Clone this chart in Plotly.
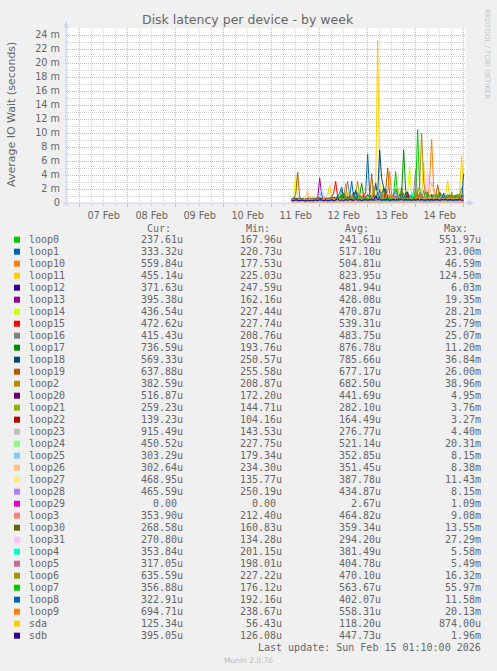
import pandas as pd
import plotly.graph_objects as go

# ------------------------------------------------------------------
# dados (valores em milissegundos, 1 ponto por hora
# a partir de 11 Feb 10:00 ate 15 Feb 00:00)
# ------------------------------------------------------------------
start = "2026-02-11 10:00"
n_points = 87

devices = ["loop0", "loop1", "loop10", "loop11", "loop12", "loop13", "loop14", "loop15",
           "loop16", "loop17", "loop18", "loop19", "loop2", "loop20", "loop21", "loop22",
           "loop23", "loop24", "loop25", "loop26", "loop27", "loop28", "loop29", "loop3",
           "loop30", "loop31", "loop4", "loop5", "loop6", "loop7", "loop8", "loop9",
           "sda", "sdb"]

colors = ["#00CC00", "#0066B3", "#FF8000", "#FFCC00", "#330099", "#990099", "#CCFF00", "#FF0000",
          "#808080", "#008F00", "#00487D", "#B35A00", "#B38F00", "#6B006B", "#8FB300", "#B30000",
          "#BEBEBE", "#80FF80", "#80C9FF", "#FFC080", "#FFE680", "#AA80FF", "#EE00CC", "#FF8080",
          "#666600", "#FFBFFF", "#00FFCC", "#CC6699", "#999900", "#00CC00", "#0066B3", "#FF8000",
          "#FFCC00", "#330099"]

cur = ["237.61u", "333.32u", "559.84u", "455.14u", "371.63u", "395.38u", "436.54u", "472.62u",
       "415.43u", "736.59u", "569.33u", "637.88u", "382.59u", "516.87u", "259.23u", "139.23u",
       "915.49u", "450.52u", "303.29u", "302.64u", "468.95u", "465.59u", "0.00", "353.90u",
       "268.58u", "270.80u", "353.84u", "317.05u", "635.59u", "356.88u", "322.91u", "694.71u",
       "125.34u", "395.05u"]
mins = ["167.96u", "220.73u", "177.53u", "225.03u", "247.59u", "162.16u", "227.44u", "227.74u",
        "208.76u", "193.76u", "250.57u", "255.58u", "208.87u", "172.20u", "144.71u", "104.16u",
        "143.53u", "227.75u", "179.34u", "234.30u", "135.77u", "250.19u", "0.00", "212.40u",
        "160.83u", "134.28u", "201.15u", "198.01u", "227.22u", "176.12u", "192.16u", "238.67u",
        "56.43u", "126.08u"]
avgs = ["241.61u", "517.10u", "504.81u", "823.95u", "481.94u", "428.08u", "470.87u", "539.31u",
        "483.75u", "876.78u", "785.66u", "677.17u", "682.50u", "441.69u", "282.10u", "164.49u",
        "276.77u", "521.14u", "352.85u", "351.45u", "387.78u", "434.87u", "2.67u", "464.82u",
        "359.34u", "294.20u", "381.49u", "404.78u", "470.10u", "563.67u", "402.07u", "558.31u",
        "118.20u", "447.73u"]
maxs = ["551.97u", "23.00m", "46.59m", "124.50m", "6.03m", "19.35m", "28.21m", "25.79m",
        "25.07m", "11.20m", "36.84m", "26.00m", "38.96m", "4.95m", "3.76m", "3.27m",
        "4.40m", "20.31m", "8.15m", "8.38m", "11.43m", "8.15m", "1.09m", "9.08m",
        "13.55m", "27.29m", "5.58m", "5.49m", "16.32m", "55.97m", "11.58m", "20.13m",
        "874.00u", "1.96m"]

loop0 = [0.22, 0.25, 0.2, 0.24, 0.3, 0.21, 0.19, 0.23, 0.26, 0.2,
         0.24, 0.28, 0.22, 0.2, 0.35, 0.25, 0.21, 0.23, 0.27, 0.3,
         0.22, 0.2, 0.26, 0.24, 0.3, 0.22, 0.25, 0.28, 0.21, 0.24,
         0.33, 0.25, 0.22, 0.2, 0.26, 0.3, 0.24, 0.22, 0.4, 0.25,
         0.28, 0.23, 0.3, 0.45, 0.35, 0.26, 0.22, 0.24, 0.3, 0.27,
         0.23, 0.25, 0.29, 0.22, 0.26, 0.24, 0.31, 0.22, 0.25, 0.28,
         0.24, 0.22, 0.3, 0.35, 0.27, 0.25, 0.23, 0.26, 0.3, 0.22,
         0.25, 0.28, 0.24, 0.22, 0.26, 0.3, 0.23, 0.21, 0.25, 0.27,
         0.22, 0.24, 0.26, 0.23, 0.25, 0.28, 0.24]
loop1 = [0.4, 0.35, 0.5, 0.45, 0.38, 0.6, 0.42, 0.4, 0.55, 0.48,
         0.5, 0.45, 0.4, 0.62, 0.5, 0.44, 0.48, 0.52, 0.4, 0.46,
         0.5, 0.55, 0.48, 0.6, 0.5, 1.2, 0.55, 0.5, 0.7, 0.9,
         3.1, 0.8, 0.6, 0.5, 0.7, 0.9, 0.6, 1.6, 7.0, 1.2,
         0.7, 0.6, 0.8, 0.5, 1.9, 0.7, 0.6, 0.5, 0.8, 0.6,
         0.55, 0.7, 0.5, 0.6, 1.4, 0.6, 0.5, 0.7, 0.6, 0.5,
         0.6, 0.8, 0.5, 0.6, 0.7, 0.5, 0.9, 1.5, 0.6, 0.5,
         0.6, 0.5, 0.7, 0.6, 1.2, 0.5, 0.6, 0.5, 0.7, 0.6,
         0.5, 0.6, 0.8, 0.6, 0.5, 0.7, 0.6]
loop10 = [0.45, 0.5, 0.6, 0.55, 0.4, 0.5, 0.45, 0.5, 0.6, 0.5,
          0.55, 0.45, 0.5, 0.6, 0.5, 0.45, 0.5, 0.55, 0.6, 0.5,
          0.7, 0.5, 0.6, 0.55, 0.9, 0.6, 0.7, 2.8, 0.8, 0.6,
          0.7, 1.1, 0.6, 0.8, 0.6, 0.7, 0.9, 0.6, 0.7, 0.8,
          0.6, 0.9, 0.7, 0.6, 1.0, 0.7, 1.3, 0.6, 0.8, 0.7,
          0.6, 0.8, 1.2, 0.7, 0.6, 0.9, 0.7, 0.6, 1.1, 0.8,
          0.7, 0.9, 0.6, 1.4, 0.8, 1.0, 0.7, 2.0, 0.9, 3.2,
          9.1, 2.2, 0.8, 0.9, 1.5, 0.7, 0.8, 0.9, 0.6, 0.7,
          0.8, 0.6, 0.7, 0.9, 0.6, 0.7, 0.6]
loop11 = [0.5, 0.6, 0.55, 0.7, 0.5, 0.6, 0.65, 0.5, 0.6, 1.0,
          0.6, 0.7, 0.5, 0.6, 0.8, 0.6, 0.7, 0.9, 1.2, 2.5,
          0.8, 0.7, 0.6, 0.9, 0.7, 0.8, 1.0, 0.7, 1.5, 0.8,
          0.7, 0.9, 1.1, 0.8, 0.7, 1.6, 0.9, 0.8, 1.0, 0.9,
          0.8, 1.0, 2.0, 23.2, 3.0, 1.2, 0.9, 1.0, 0.8, 1.3,
          0.9, 1.1, 0.8, 2.2, 1.0, 0.9, 1.2, 0.8, 1.0, 0.9,
          1.1, 0.9, 1.5, 1.0, 0.8, 1.2, 5.8, 1.4, 0.9, 1.0,
          1.2, 0.9, 1.0, 1.3, 0.8, 1.0, 0.9, 1.1, 3.2, 0.9,
          1.0, 0.8, 1.2, 0.9, 1.5, 6.8, 1.0]
loop12 = [0.4, 0.45, 0.5, 0.42, 0.48, 0.4, 0.45, 0.5, 0.44, 0.42,
          0.46, 0.5, 0.42, 0.45, 0.55, 0.48, 0.44, 0.5, 0.46, 0.52,
          0.48, 0.44, 0.5, 0.46, 0.52, 0.48, 0.55, 0.5, 0.46, 0.5,
          0.52, 1.5, 0.5, 0.55, 0.47, 0.5, 0.6, 0.52, 0.55, 0.5,
          0.5, 0.55, 0.6, 0.52, 0.5, 0.56, 0.48, 2.0, 0.62, 0.5,
          0.48, 0.52, 0.5, 0.55, 0.5, 0.48, 0.53, 0.5, 0.46, 0.52,
          0.5, 0.55, 0.48, 0.52, 0.6, 0.5, 0.48, 0.55, 0.5, 0.52,
          1.2, 0.5, 0.55, 0.5, 0.46, 0.52, 0.5, 0.48, 0.55, 0.5,
          0.5, 0.46, 0.52, 0.5, 0.48, 0.5, 0.45]
loop13 = [0.35, 0.4, 0.38, 0.42, 0.36, 0.4, 0.38, 0.45, 0.4, 0.37,
          0.4, 0.42, 0.38, 0.6, 3.6, 1.2, 0.5, 0.42, 0.4, 0.38,
          0.42, 0.4, 0.45, 0.38, 0.4, 0.5, 0.42, 0.4, 0.45, 0.4,
          0.42, 0.48, 0.4, 0.45, 0.42, 0.4, 0.5, 0.44, 0.42, 0.46,
          0.4, 0.45, 0.42, 0.5, 0.44, 0.4, 0.48, 0.42, 0.45, 0.4,
          0.44, 0.42, 0.4, 0.5, 0.45, 0.42, 0.4, 1.5, 0.42, 0.44,
          0.4, 0.42, 0.48, 0.44, 0.4, 0.45, 0.42, 0.4, 0.46, 0.42,
          0.45, 0.4, 0.42, 0.44, 0.4, 0.48, 0.42, 0.4, 0.45, 0.42,
          0.4, 0.44, 0.42, 0.4, 0.46, 0.42, 0.4]
loop14 = [0.4, 0.8, 4.0, 0.9, 0.4, 0.45, 0.4, 0.5, 0.42, 0.4,
          0.45, 0.4, 0.5, 0.42, 0.6, 0.45, 0.4, 0.5, 0.45, 0.42,
          0.5, 0.45, 0.4, 0.48, 0.5, 0.6, 0.45, 0.5, 0.4, 0.55,
          0.5, 0.45, 0.7, 0.5, 0.45, 0.5, 0.6, 0.45, 0.5, 0.48,
          0.55, 0.5, 0.45, 0.6, 0.5, 0.48, 0.9, 0.5, 0.45, 0.6,
          0.5, 0.45, 1.4, 0.5, 0.48, 0.6, 0.5, 0.7, 1.6, 5.3,
          1.0, 0.5, 0.6, 0.5, 0.45, 1.2, 0.5, 0.6, 0.5, 0.45,
          0.5, 0.6, 0.48, 0.5, 0.45, 0.5, 0.6, 0.5, 0.48, 0.5,
          0.45, 0.5, 0.55, 0.5, 0.48, 0.5, 0.45]
loop15 = [0.45, 0.5, 0.48, 0.5, 0.45, 0.52, 0.5, 0.48, 0.5, 0.46,
          0.5, 0.48, 0.52, 0.5, 0.55, 0.5, 0.48, 0.5, 0.52, 0.6,
          0.9, 1.4, 3.1, 0.8, 0.55, 0.5, 0.6, 0.52, 0.5, 0.55,
          0.5, 0.6, 0.52, 0.55, 0.5, 0.7, 0.55, 0.5, 0.6, 0.52,
          0.55, 0.5, 0.6, 0.55, 0.52, 0.6, 2.0, 0.55, 0.6, 0.52,
          0.55, 0.6, 0.5, 0.55, 0.6, 0.52, 0.5, 0.55, 0.6, 0.5,
          0.55, 0.52, 0.6, 0.5, 0.55, 0.6, 0.52, 0.5, 0.55, 0.6,
          0.5, 0.55, 0.6, 0.52, 0.5, 0.55, 1.4, 0.5, 0.52, 0.55,
          0.5, 0.55, 0.52, 0.5, 0.55, 0.5, 0.48]
loop16 = [0.4, 0.45, 0.42, 0.4, 0.45, 0.5, 0.42, 0.4, 0.45, 0.42,
          0.45, 0.4, 0.48, 0.42, 0.45, 0.5, 0.42, 0.45, 0.4, 0.48,
          0.45, 0.5, 0.42, 0.48, 0.45, 0.5, 0.6, 1.2, 3.1, 0.9,
          0.5, 0.48, 0.55, 0.5, 0.45, 0.5, 0.55, 0.48, 0.5, 0.6,
          0.5, 0.55, 0.48, 0.5, 0.6, 0.5, 0.48, 0.55, 0.5, 0.52,
          0.5, 0.48, 0.55, 0.5, 0.6, 0.5, 0.48, 0.5, 0.55, 0.5,
          0.6, 1.5, 4.8, 0.9, 0.5, 0.55, 0.5, 0.48, 0.55, 0.5,
          0.48, 0.5, 0.55, 0.5, 0.48, 0.52, 0.5, 0.55, 0.5, 0.48,
          0.5, 0.52, 0.48, 0.5, 0.55, 0.5, 0.48]
loop17 = [0.6, 0.7, 0.65, 0.6, 0.7, 0.62, 0.68, 0.6, 0.7, 0.65,
          0.7, 0.62, 0.68, 0.7, 0.75, 0.7, 0.65, 0.72, 0.7, 0.68,
          0.75, 0.7, 0.8, 0.72, 0.9, 0.8, 1.4, 0.85, 0.8, 0.9,
          1.0, 0.9, 1.8, 0.9, 1.1, 2.8, 1.0, 0.9, 1.2, 1.0,
          0.9, 1.1, 1.0, 0.9, 1.3, 1.0, 2.2, 1.0, 1.1, 0.9,
          1.0, 1.2, 2.0, 1.0, 1.1, 1.5, 7.6, 1.8, 1.0, 1.1,
          1.0, 0.9, 1.2, 1.0, 1.1, 1.0, 0.9, 1.3, 1.0, 1.1,
          1.0, 1.2, 0.9, 1.1, 1.6, 1.0, 1.1, 0.9, 1.2, 1.0,
          1.1, 0.9, 1.0, 1.2, 1.0, 1.1, 0.9]
loop18 = [0.6, 0.65, 0.7, 0.6, 0.62, 0.7, 0.65, 0.6, 0.68, 0.62,
          0.65, 0.7, 0.6, 0.68, 0.72, 0.65, 0.7, 0.62, 0.68, 0.7,
          0.7, 0.75, 0.68, 0.8, 0.7, 0.9, 0.75, 0.8, 0.72, 0.85,
          0.8, 0.9, 0.75, 1.0, 0.8, 0.9, 0.85, 0.8, 1.1, 0.9,
          1.0, 0.9, 2.8, 1.2, 7.6, 3.5, 2.2, 1.5, 1.0, 0.9,
          0.8, 1.0, 0.9, 0.8, 1.1, 0.9, 0.8, 1.0, 0.9, 0.8,
          0.9, 0.8, 1.0, 0.9, 0.8, 1.2, 0.9, 0.8, 1.0, 0.9,
          0.8, 0.9, 1.0, 0.8, 0.9, 1.1, 0.8, 0.9, 0.8, 1.0,
          0.9, 0.8, 1.0, 0.9, 0.8, 0.9, 0.85]
loop19 = [0.5, 0.6, 1.2, 4.4, 0.9, 0.55, 0.5, 0.6, 0.55, 0.5,
          0.55, 0.6, 0.5, 0.58, 0.6, 0.55, 0.62, 0.5, 0.6, 0.55,
          0.6, 0.65, 0.6, 0.7, 0.62, 0.6, 0.7, 0.65, 0.8, 0.7,
          0.65, 0.7, 0.8, 1.5, 0.7, 0.75, 0.8, 0.7, 1.2, 0.8,
          4.2, 1.0, 0.8, 0.9, 0.8, 0.7, 0.9, 1.8, 5.0, 1.2,
          0.8, 0.9, 0.7, 0.8, 1.0, 0.7, 0.8, 0.9, 0.7, 0.8,
          0.9, 0.7, 0.8, 1.1, 0.8, 0.9, 0.7, 0.8, 1.6, 0.8,
          0.7, 0.9, 0.8, 2.6, 0.9, 0.7, 0.8, 0.9, 0.7, 0.8,
          0.9, 0.7, 0.8, 1.0, 0.7, 0.8, 0.75]
loop2 = [0.5, 0.55, 0.6, 0.5, 0.55, 0.5, 0.6, 0.55, 0.5, 0.55,
         0.6, 0.55, 0.5, 0.6, 0.55, 0.5, 0.6, 0.55, 0.6, 0.5,
         0.6, 0.65, 0.6, 0.7, 0.6, 0.65, 0.7, 0.8, 0.65, 0.7,
         0.7, 0.8, 1.4, 3.1, 0.9, 0.8, 0.7, 0.9, 0.8, 0.7,
         0.9, 0.8, 0.7, 1.0, 0.8, 0.9, 0.7, 0.8, 1.1, 0.8,
         0.7, 0.9, 0.8, 0.7, 0.9, 0.8, 1.2, 0.8, 0.7, 0.9,
         0.8, 0.9, 1.0, 1.5, 2.4, 10.0, 3.0, 1.2, 0.9, 0.8,
         0.9, 0.8, 1.3, 0.9, 0.8, 0.9, 0.8, 1.0, 0.9, 0.8,
         0.9, 0.8, 1.0, 0.8, 0.9, 2.2, 0.8]
loop20 = [0.4, 0.38, 0.42, 0.4, 0.45, 0.4, 0.38, 0.42, 0.4, 0.44,
          0.4, 0.42, 0.38, 0.45, 0.7, 0.5, 0.42, 0.4, 0.45, 0.42,
          0.44, 0.4, 0.45, 0.42, 0.4, 0.46, 0.42, 0.44, 0.4, 0.45,
          0.42, 0.46, 0.44, 0.4, 0.48, 0.44, 1.3, 0.45, 0.5, 0.44,
          0.46, 0.44, 0.5, 0.45, 0.42, 0.48, 0.44, 0.46, 0.42, 0.45,
          0.44, 0.42, 0.46, 0.45, 0.5, 0.44, 0.42, 0.46, 1.6, 0.45,
          0.46, 0.44, 0.42, 0.45, 0.48, 0.44, 0.46, 0.42, 0.45, 0.44,
          0.42, 0.46, 0.44, 0.45, 0.42, 0.48, 0.44, 0.46, 0.42, 0.45,
          0.44, 0.46, 0.42, 0.45, 0.44, 0.46, 0.5]
loop21 = [0.25, 0.28, 0.26, 0.3, 0.25, 0.27, 0.28, 0.26, 0.25, 0.28,
          0.27, 0.26, 0.3, 0.28, 0.26, 0.27, 0.25, 0.28, 0.3, 0.26,
          0.28, 0.27, 0.26, 0.3, 0.28, 0.25, 0.27, 0.3, 0.28, 0.26,
          0.3, 0.28, 0.27, 0.26, 0.3, 0.28, 0.32, 0.27, 0.28, 0.3,
          0.28, 0.26, 0.3, 0.28, 0.35, 0.27, 0.28, 0.3, 0.26, 0.28,
          1.4, 0.27, 0.28, 0.26, 0.3, 0.28, 0.27, 0.3, 0.28, 0.26,
          0.28, 0.3, 0.27, 0.28, 0.26, 0.3, 0.28, 0.27, 0.3, 0.28,
          0.27, 0.28, 0.3, 0.26, 0.28, 0.27, 0.3, 0.28, 0.26, 0.28,
          0.3, 0.27, 0.28, 0.26, 0.28, 0.27, 0.26]
loop22 = [0.15, 0.16, 0.15, 0.17, 0.16, 0.15, 0.16, 0.17, 0.15, 0.16,
          0.16, 0.15, 0.17, 0.16, 0.15, 0.16, 0.18, 0.15, 0.16, 0.17,
          0.16, 0.17, 0.15, 0.16, 0.18, 0.16, 0.15, 0.17, 0.16, 0.18,
          0.17, 0.16, 0.15, 0.18, 0.16, 0.17, 0.15, 0.16, 0.18, 0.16,
          0.17, 0.16, 0.18, 0.15, 0.17, 0.16, 0.18, 0.16, 0.15, 0.17,
          0.16, 0.18, 0.17, 0.16, 0.15, 0.17, 0.16, 0.18, 0.16, 0.17,
          0.15, 0.17, 0.16, 0.18, 0.16, 0.17, 0.15, 0.16, 0.17, 0.16,
          0.18, 0.16, 0.17, 0.15, 0.16, 0.18, 0.16, 0.17, 0.16, 0.15,
          0.17, 0.16, 0.15, 0.16, 0.17, 0.15, 0.14]
loop23 = [0.25, 0.27, 0.26, 0.28, 0.25, 0.27, 0.26, 0.28, 0.25, 0.26,
          0.27, 0.28, 0.26, 0.25, 0.3, 0.27, 0.26, 0.28, 0.27, 0.25,
          0.28, 0.26, 0.27, 0.3, 0.26, 0.28, 0.27, 0.26, 0.3, 0.28,
          0.26, 0.28, 0.3, 0.27, 1.5, 0.28, 0.3, 0.27, 0.28, 0.26,
          0.3, 0.28, 0.27, 0.26, 0.32, 0.28, 0.27, 0.3, 0.26, 0.28,
          0.27, 0.3, 0.28, 0.26, 0.28, 0.27, 0.3, 0.28, 0.27, 0.26,
          0.28, 0.3, 0.27, 0.28, 0.26, 0.3, 0.28, 0.27, 0.26, 0.28,
          0.3, 0.27, 0.28, 0.26, 0.28, 0.3, 0.27, 0.26, 0.28, 0.27,
          0.28, 0.26, 0.3, 0.27, 0.28, 0.5, 0.9]
loop24 = [0.45, 0.5, 0.48, 0.45, 0.5, 0.52, 0.48, 0.5, 0.45, 0.5,
          0.48, 0.5, 0.52, 0.48, 0.5, 0.55, 0.5, 0.48, 0.52, 0.5,
          0.5, 0.55, 0.5, 0.52, 0.6, 0.5, 0.55, 0.52, 0.5, 0.6,
          0.55, 0.5, 0.6, 0.55, 0.52, 0.6, 0.55, 0.5, 0.6, 0.55,
          0.6, 0.55, 0.5, 0.6, 0.55, 1.5, 0.6, 0.55, 0.5, 0.6,
          0.55, 0.6, 0.5, 0.55, 2.2, 0.6, 0.55, 0.5, 0.6, 0.55,
          0.5, 0.6, 0.55, 0.5, 0.6, 1.8, 0.55, 0.5, 0.6, 0.55,
          0.5, 0.6, 0.55, 0.6, 0.5, 0.55, 1.4, 0.5, 0.6, 0.55,
          0.5, 0.55, 0.6, 0.5, 0.55, 0.5, 0.45]
loop25 = [0.3, 0.32, 0.35, 0.3, 0.33, 0.3, 0.35, 0.32, 0.3, 0.34,
          0.32, 0.3, 0.35, 0.33, 0.5, 2.0, 0.6, 0.35, 0.3, 0.32,
          0.35, 0.32, 0.3, 0.34, 0.32, 0.35, 0.3, 0.33, 0.35, 0.32,
          0.34, 0.3, 0.35, 0.32, 0.34, 0.36, 0.32, 0.35, 0.3, 0.34,
          0.32, 0.35, 0.34, 0.3, 1.2, 0.36, 0.34, 0.32, 0.35, 0.3,
          0.34, 0.32, 0.35, 0.3, 0.34, 0.32, 0.35, 0.33, 0.3, 0.34,
          0.32, 0.35, 0.3, 0.34, 0.32, 0.35, 0.33, 0.3, 0.34, 0.32,
          0.35, 0.3, 0.33, 0.32, 0.35, 0.34, 0.3, 0.32, 0.35, 0.33,
          0.3, 0.32, 0.35, 0.33, 0.3, 0.32, 0.3]
loop26 = [0.3, 0.32, 0.35, 0.3, 0.34, 0.32, 0.4, 0.8, 1.8, 0.5,
          0.32, 0.3, 0.34, 0.32, 0.3, 0.35, 0.33, 0.3, 0.34, 0.32,
          0.35, 0.3, 0.32, 0.34, 0.3, 0.33, 0.35, 0.32, 0.3, 0.34,
          0.32, 0.35, 0.3, 0.33, 0.34, 0.3, 0.32, 0.35, 0.33, 0.3,
          0.34, 0.32, 0.3, 0.35, 0.33, 0.32, 0.3, 0.34, 0.32, 0.35,
          0.33, 0.3, 0.32, 0.35, 0.3, 0.34, 0.32, 0.3, 0.35, 0.33,
          0.32, 0.3, 0.34, 0.35, 0.32, 0.3, 0.6, 0.35, 0.32, 0.9,
          3.0, 1.5, 0.4, 0.32, 0.35, 0.3, 0.34, 0.32, 0.3, 0.35,
          0.33, 0.3, 0.32, 0.34, 0.3, 0.32, 0.3]
loop27 = [0.35, 0.38, 0.36, 0.4, 0.35, 0.38, 0.36, 0.35, 0.4, 0.38,
          0.36, 0.38, 0.35, 0.4, 0.37, 0.36, 0.38, 0.4, 0.35, 0.38,
          0.4, 0.36, 0.38, 0.35, 0.4, 0.38, 0.36, 0.4, 0.38, 0.35,
          0.38, 0.4, 0.36, 0.38, 0.42, 0.38, 0.36, 0.4, 0.38, 0.4,
          0.38, 0.36, 0.4, 1.8, 0.5, 0.38, 0.4, 0.36, 0.38, 0.4,
          0.36, 0.4, 0.38, 0.36, 0.4, 0.38, 0.36, 0.4, 0.38, 0.36,
          0.4, 0.38, 0.36, 0.4, 0.38, 0.36, 1.2, 0.38, 0.4, 0.36,
          0.38, 0.4, 0.36, 0.38, 0.4, 0.36, 0.38, 0.4, 0.36, 0.38,
          0.4, 0.36, 0.38, 0.4, 0.36, 0.38, 0.42]
loop28 = [0.4, 0.42, 0.4, 0.45, 0.4, 0.42, 0.44, 0.4, 0.42, 0.4,
          0.42, 0.44, 0.4, 0.42, 0.45, 0.4, 0.42, 0.44, 0.4, 0.43,
          0.44, 0.42, 0.4, 0.45, 0.42, 0.44, 0.4, 0.43, 0.45, 0.42,
          0.44, 0.42, 0.45, 0.4, 0.44, 0.42, 0.46, 0.43, 0.42, 0.45,
          0.42, 0.44, 0.46, 0.42, 0.9, 0.44, 0.42, 0.45, 0.43, 0.44,
          0.42, 0.45, 1.8, 0.42, 0.46, 0.43, 0.44, 0.42, 0.45, 0.44,
          0.42, 0.44, 0.46, 0.43, 0.42, 0.45, 0.44, 0.42, 0.46, 0.44,
          0.43, 0.42, 0.45, 0.44, 0.42, 1.2, 0.44, 0.43, 0.42, 0.45,
          0.44, 0.42, 0.46, 0.44, 0.43, 0.45, 0.46]
loop29 = [0, 0, 0, 0, 0, 0, 0, 0, 0, 0,
          0, 0, 0, 0, 0, 0, 0, 0, 0, 0,
          0, 0, 0, 0, 0, 0, 0, 0, 0, 0,
          0, 0, 0, 0, 0, 0, 0, 0, 0, 0,
          0, 0, 0.1, 0, 0, 0, 0, 0, 0, 0,
          0, 0, 0, 0, 0, 0, 0, 0, 0, 0,
          0, 0, 0, 0, 0, 0, 0, 0, 0, 0,
          0, 0, 0, 0, 0, 0, 0, 0, 0, 0,
          0, 0, 0, 0, 0, 0, 0]
loop3 = [0.4, 0.42, 0.45, 0.4, 0.44, 0.42, 0.4, 0.45, 0.42, 0.4,
         0.44, 0.42, 0.45, 0.4, 0.42, 0.44, 0.46, 0.42, 0.4, 0.45,
         0.42, 0.44, 0.4, 0.46, 0.42, 0.45, 0.44, 0.42, 0.46, 0.44,
         0.45, 0.42, 0.44, 0.46, 0.42, 0.45, 1.6, 0.5, 0.44, 0.46,
         0.45, 1.8, 0.5, 0.46, 0.44, 0.48, 0.45, 0.44, 0.46, 1.4,
         0.45, 0.48, 0.44, 0.46, 0.45, 0.48, 0.44, 0.46, 0.45, 0.48,
         0.46, 0.44, 0.48, 0.45, 0.46, 0.44, 0.48, 0.45, 0.46, 0.44,
         0.48, 0.45, 0.44, 0.46, 0.48, 0.45, 0.46, 0.44, 0.48, 0.45,
         0.46, 0.44, 0.48, 0.45, 0.46, 0.44, 0.4]
loop30 = [0.32, 0.35, 0.34, 0.3, 0.36, 0.33, 0.35, 0.32, 0.34, 0.36,
          0.33, 0.35, 0.32, 0.36, 0.34, 0.33, 0.35, 0.36, 0.32, 0.34,
          0.35, 0.33, 0.36, 0.34, 0.32, 0.35, 0.36, 0.33, 0.34, 0.38,
          0.36, 0.34, 0.35, 0.38, 0.36, 0.34, 0.37, 0.35, 0.38, 0.36,
          0.35, 0.38, 0.36, 0.34, 0.4, 0.36, 0.35, 1.2, 0.38, 0.36,
          0.38, 0.36, 0.35, 0.38, 0.36, 2.2, 0.37, 0.35, 0.38, 0.36,
          0.37, 0.35, 0.38, 0.36, 0.4, 0.37, 0.35, 0.38, 0.36, 0.37,
          0.35, 0.38, 0.36, 0.37, 0.35, 0.38, 0.36, 0.4, 0.37, 0.35,
          0.38, 0.36, 0.35, 0.37, 0.36, 0.3, 0.27]
loop31 = [0.25, 0.28, 0.26, 0.27, 0.25, 0.28, 0.26, 0.25, 0.27, 0.28,
          0.26, 0.27, 0.25, 0.28, 0.26, 0.27, 0.28, 0.25, 0.26, 0.28,
          0.27, 0.26, 0.28, 0.25, 0.27, 0.28, 0.26, 0.27, 0.25, 0.28,
          0.27, 0.28, 0.26, 0.29, 0.27, 0.28, 0.3, 0.27, 0.28, 0.26,
          0.28, 0.3, 0.27, 0.28, 0.29, 0.27, 0.3, 0.28, 0.27, 0.3,
          0.28, 0.27, 0.3, 0.28, 0.29, 0.27, 0.28, 0.3, 0.27, 0.28,
          0.3, 0.27, 0.28, 0.29, 0.28, 0.3, 0.27, 0.9, 4.5, 1.0,
          0.3, 0.28, 0.27, 0.3, 0.28, 0.29, 0.27, 0.28, 0.3, 0.28,
          0.27, 0.3, 0.28, 0.27, 0.29, 0.28, 0.27]
loop4 = [0.34, 0.36, 0.35, 0.38, 0.34, 0.36, 0.35, 0.37, 0.34, 0.36,
         0.35, 0.37, 0.36, 0.34, 0.38, 0.35, 0.36, 0.37, 0.34, 0.36,
         0.37, 0.35, 0.36, 0.38, 0.35, 0.37, 0.36, 0.35, 0.38, 0.36,
         0.37, 0.36, 0.38, 0.35, 0.37, 0.4, 0.36, 0.38, 1.0, 0.36,
         0.38, 0.37, 0.4, 0.36, 0.38, 0.37, 0.36, 0.4, 0.38, 0.37,
         0.36, 0.38, 0.37, 0.4, 0.36, 0.38, 0.37, 0.36, 0.4, 0.38,
         1.5, 0.36, 0.38, 0.4, 0.37, 0.36, 0.38, 0.37, 0.4, 0.36,
         0.38, 0.37, 0.36, 0.4, 0.38, 0.37, 0.36, 0.38, 0.37, 0.4,
         0.36, 0.38, 0.37, 0.36, 0.38, 0.37, 0.35]
loop5 = [0.36, 0.38, 0.4, 0.37, 0.39, 0.36, 0.38, 0.4, 0.37, 0.38,
         0.39, 0.37, 0.4, 0.38, 0.36, 0.39, 0.38, 0.4, 0.37, 0.39,
         0.38, 0.4, 0.37, 0.39, 0.41, 0.38, 0.4, 0.39, 0.37, 0.4,
         0.39, 0.41, 0.38, 0.4, 0.42, 0.39, 0.4, 0.38, 0.41, 0.4,
         0.42, 0.4, 0.39, 0.41, 0.4, 1.5, 0.5, 0.41, 0.4, 0.42,
         0.4, 0.41, 0.39, 0.42, 0.4, 0.41, 0.43, 0.4, 0.42, 0.41,
         0.4, 0.42, 0.41, 0.4, 0.43, 0.41, 1.8, 0.42, 0.41, 0.4,
         0.42, 0.41, 0.43, 0.4, 0.41, 0.42, 0.4, 0.41, 0.43, 0.4,
         0.41, 0.4, 0.42, 0.41, 0.4, 0.36, 0.32]
loop6 = [0.42, 0.45, 0.44, 0.46, 0.42, 0.45, 0.43, 0.44, 0.46, 0.42,
         0.44, 0.46, 0.43, 0.45, 0.44, 0.42, 0.46, 0.44, 0.45, 0.43,
         0.45, 0.44, 0.46, 0.45, 0.48, 0.44, 0.46, 0.45, 0.47, 0.5,
         0.46, 0.48, 0.47, 0.5, 0.46, 0.48, 0.5, 0.47, 0.49, 0.48,
         0.5, 2.4, 0.47, 0.5, 0.49, 0.48, 0.5, 0.47, 0.49, 0.5,
         0.48, 0.5, 0.49, 0.47, 0.5, 0.48, 0.49, 0.5, 0.47, 0.48,
         0.5, 0.48, 2.0, 0.6, 0.49, 0.47, 0.5, 0.48, 0.49, 0.5,
         0.47, 0.5, 0.48, 0.49, 0.5, 0.47, 0.48, 0.5, 0.49, 0.47,
         1.6, 0.48, 0.49, 0.5, 0.47, 0.55, 0.64]
loop7 = [0.4, 0.45, 0.5, 0.42, 0.4, 0.45, 0.5, 0.42, 0.45, 0.4,
         0.45, 0.5, 0.42, 0.45, 0.5, 0.48, 0.42, 0.45, 0.5, 0.42,
         0.5, 0.45, 0.55, 0.6, 0.5, 1.8, 0.6, 0.5, 0.55, 0.6,
         0.5, 0.7, 0.55, 0.6, 1.2, 0.6, 0.5, 0.7, 0.6, 0.55,
         0.6, 0.55, 0.7, 0.6, 1.0, 0.6, 0.55, 0.8, 0.6, 0.7,
         0.6, 1.3, 4.5, 1.0, 0.6, 0.7, 1.4, 0.6, 0.7, 0.6,
         0.7, 0.6, 1.8, 10.5, 2.0, 0.8, 0.7, 1.6, 0.8, 1.0,
         0.9, 1.1, 1.0, 0.9, 1.0, 1.2, 1.0, 0.9, 1.1, 1.0,
         1.0, 1.1, 0.9, 1.0, 1.2, 1.0, 1.1]
loop8 = [0.35, 0.38, 0.36, 0.4, 0.35, 0.37, 0.36, 0.38, 0.35, 0.37,
         0.36, 0.38, 0.35, 0.37, 0.4, 0.36, 0.38, 0.37, 0.36, 0.38,
         0.37, 0.4, 0.38, 0.9, 1.4, 2.3, 0.7, 0.4, 0.38, 0.9,
         0.42, 0.4, 1.8, 0.45, 0.4, 0.42, 0.4, 0.45, 0.42, 0.4,
         0.42, 0.45, 0.4, 1.6, 0.42, 0.4, 0.45, 0.42, 0.4, 0.42,
         0.4, 0.42, 0.45, 0.4, 0.42, 1.3, 0.42, 0.4, 0.45, 0.42,
         0.4, 0.42, 0.45, 0.4, 1.5, 0.42, 0.4, 0.45, 0.42, 0.4,
         0.42, 0.45, 0.4, 0.42, 0.4, 0.45, 1.4, 0.42, 0.4, 0.45,
         0.42, 0.4, 0.45, 0.42, 0.4, 0.6, 4.2]
loop9 = [0.5, 0.52, 0.55, 0.5, 0.53, 0.5, 0.55, 0.52, 0.5, 0.54,
         0.52, 0.5, 0.55, 0.53, 0.5, 0.52, 0.55, 0.5, 0.53, 0.52,
         0.55, 0.5, 0.53, 0.55, 0.52, 0.5, 0.55, 0.53, 0.52, 0.55,
         1.2, 0.55, 0.52, 0.56, 0.54, 0.52, 0.55, 0.53, 0.56, 0.54,
         0.55, 0.53, 0.56, 0.54, 0.52, 0.56, 0.55, 0.53, 1.8, 4.5,
         1.2, 0.56, 0.54, 0.55, 0.56, 0.53, 0.55, 0.56, 0.54, 0.55,
         0.56, 0.54, 0.55, 0.58, 1.5, 0.55, 0.58, 0.56, 0.55, 0.58,
         0.6, 0.56, 0.58, 0.55, 0.57, 0.56, 0.58, 0.55, 0.57, 0.56,
         0.58, 0.55, 0.57, 0.56, 0.58, 0.65, 0.69]
sda = [0.12, 0.11, 0.12, 0.13, 0.12, 0.11, 0.12, 0.12, 0.11, 0.13,
       0.12, 0.11, 0.12, 0.13, 0.12, 0.12, 0.11, 0.12, 0.13, 0.12,
       0.11, 0.12, 0.12, 0.13, 0.12, 0.11, 0.12, 0.13, 0.12, 0.11,
       0.12, 0.13, 0.12, 0.11, 0.12, 0.12, 0.13, 0.12, 0.11, 0.12,
       0.12, 0.11, 0.13, 0.12, 0.12, 0.11, 0.12, 0.13, 0.12, 0.12,
       0.11, 0.12, 0.13, 0.12, 0.11, 0.12, 0.12, 0.13, 0.12, 0.11,
       0.12, 0.12, 0.11, 0.13, 0.12, 0.12, 0.11, 0.12, 0.13, 0.12,
       0.12, 0.11, 0.12, 0.12, 0.13, 0.12, 0.11, 0.12, 0.12, 0.13,
       0.12, 0.11, 0.12, 0.12, 0.13, 0.12, 0.13]
sdb = [0.4, 0.3, 0.5, 0.35, 0.28, 0.45, 0.3, 0.25, 0.4, 0.3,
       0.35, 0.28, 0.5, 0.3, 0.6, 0.4, 0.3, 0.45, 0.28, 0.35,
       0.5, 0.3, 0.4, 0.6, 0.35, 0.45, 0.3, 0.55, 0.4, 0.5,
       0.45, 0.35, 0.6, 0.4, 0.5, 0.35, 0.45, 0.6, 0.4, 0.5,
       0.55, 0.4, 1.0, 0.45, 0.6, 0.4, 0.5, 0.45, 0.6, 0.4,
       0.45, 0.55, 0.4, 0.6, 0.45, 0.5, 0.4, 0.55, 0.45, 0.5,
       0.4, 0.55, 0.45, 0.6, 0.4, 0.5, 0.45, 0.4, 0.55, 0.45,
       0.5, 0.4, 0.55, 0.45, 0.4, 0.5, 0.45, 0.55, 0.4, 0.5,
       0.45, 0.4, 0.5, 0.45, 0.55, 0.4, 0.4]

series = [loop0, loop1, loop10, loop11, loop12, loop13, loop14, loop15,
          loop16, loop17, loop18, loop19, loop2, loop20, loop21, loop22,
          loop23, loop24, loop25, loop26, loop27, loop28, loop29, loop3,
          loop30, loop31, loop4, loop5, loop6, loop7, loop8, loop9,
          sda, sdb]

y_ticks = [0, 2, 4, 6, 8, 10, 12, 14, 16, 18, 20, 22, 24]
y_labels = ["0"] + [f"{v} m" for v in y_ticks[1:]]

# ------------------------------------------------------------------
# geometria (pixels da imagem de 497x671)
# ------------------------------------------------------------------
PL, PR, PT, PB = 66, 466, 28, 203
FONT = "DejaVu Sans"
MONO = "DejaVu Sans Mono"
TXT = "#666666"
AXIS_COL = "#C9CFF5"


def fx(px):
    return (px - PL) / (PR - PL)


def fy(py):
    return (PB - py) / (PB - PT)


times = pd.date_range(start, periods=n_points, freq="h")

fig = go.Figure()
for name, col, vals in zip(devices, colors, series):
    assert len(vals) == n_points, name
    fig.add_trace(go.Scatter(x=times, y=vals, mode="lines", name=name,
                             line=dict(color=col, width=1), hoverinfo="skip"))

annotations = []
shapes = []

# titulo e textos
annotations.append(dict(text="Disk latency per device - by week", x=fx(248), y=fy(19),
                        font=dict(family=FONT, size=12.5, color=TXT)))
annotations.append(dict(text="Average IO Wait (seconds)", x=fx(11), y=fy(114), textangle=-90,
                        font=dict(family=FONT, size=11, color=TXT)))
annotations.append(dict(text="RRDTOOL / TOBI OETIKER", x=fx(487), y=fy(54), textangle=90,
                        font=dict(family=FONT, size=7, color="#C4C4C4")))

# legenda estilo munin
row0, row_h = 239.3, 12.0
col_right = [185, 284, 383, 483]
head_right = [173, 272, 371, 470]
for h, xr in zip(["Cur:", "Min:", "Avg:", "Max:"], head_right):
    annotations.append(dict(text=h, x=fx(xr), y=fy(228.3), xanchor="right",
                            font=dict(family=MONO, size=10, color=TXT)))

for k, name in enumerate(devices):
    yy = row0 + row_h * k
    annotations.append(dict(text=name, x=fx(26.5), y=fy(yy), xanchor="left",
                            font=dict(family=MONO, size=10, color=TXT)))
    for xr, val in zip(col_right, [cur[k], mins[k], avgs[k], maxs[k]]):
        if val[-1].isdigit():
            xr -= 6
        annotations.append(dict(text=val, x=fx(xr), y=fy(yy), xanchor="right",
                                font=dict(family=MONO, size=10, color=TXT)))
    shapes.append(dict(type="rect", xref="paper", yref="paper",
                       x0=fx(14), x1=fx(20), y0=fy(yy - 2.6), y1=fy(yy + 3.4),
                       fillcolor=colors[k], line=dict(width=0)))

annotations.append(dict(text="Last update: Sun Feb 15 01:10:00 2026", x=fx(483), y=fy(647.7),
                        xanchor="right", font=dict(family=MONO, size=10, color=TXT)))
annotations.append(dict(text="Munin 2.0.76", x=fx(248), y=fy(660),
                        font=dict(family=FONT, size=7.5, color="#BBBBBB")))

for a in annotations:
    a.update(xref="paper", yref="paper", showarrow=False)
    a.setdefault("xanchor", "center")
    a.setdefault("yanchor", "middle")

# eixos com setas
shapes.append(dict(type="line", xref="paper", yref="paper", x0=fx(63), x1=fx(469), y0=0, y1=0,
                   line=dict(color=AXIS_COL, width=1)))
shapes.append(dict(type="path", xref="paper", yref="paper",
                   path=f"M {fx(474)},{fy(203)} L {fx(468)},{fy(200.2)} L {fx(468)},{fy(205.8)} Z",
                   fillcolor=AXIS_COL, line=dict(width=0)))
shapes.append(dict(type="line", xref="paper", yref="paper", x0=fx(66), x1=fx(66), y0=fy(206), y1=fy(27),
                   line=dict(color=AXIS_COL, width=1)))
shapes.append(dict(type="path", xref="paper", yref="paper",
                   path=f"M {fx(66)},{fy(21.5)} L {fx(63.2)},{fy(27.5)} L {fx(68.8)},{fy(27.5)} Z",
                   fillcolor=AXIS_COL, line=dict(width=0)))

fig.update_layout(
    width=497, height=671,
    margin=dict(l=PL, r=497 - PR, t=PT, b=671 - PB),
    paper_bgcolor="#F0F0F0", plot_bgcolor="#FFFFFF",
    showlegend=False,
    annotations=annotations,
    shapes=shapes,
    xaxis=dict(
        type="date",
        range=["2026-02-06 17:10", "2026-02-15 01:10"],
        tick0="2026-02-07", dtick=86400000,
        ticklabelmode="period", tickformat="%d %b",
        showgrid=True, gridcolor="#E6A8A8", griddash="1px,1px", gridwidth=1,
        ticks="outside", ticklen=3, tickcolor="#E6A8A8",
        tickfont=dict(family=FONT, size=9.7, color=TXT),
        showline=False, zeroline=False, fixedrange=True,
        minor=dict(dtick=21600000, tick0="2026-02-07", showgrid=True,
                   gridcolor="#D4D4D4", griddash="1px,1px", gridwidth=1,
                   ticks="outside", ticklen=2, tickcolor="#D4D4D4"),
    ),
    yaxis=dict(
        range=[0, 25],
        tickvals=y_ticks, ticktext=y_labels,
        showgrid=True, gridcolor="#E6A8A8", griddash="1px,1px", gridwidth=1,
        tickfont=dict(family=FONT, size=9.7, color=TXT),
        ticklabelstandoff=5,
        showline=False, zeroline=False, fixedrange=True,
        minor=dict(dtick=1, showgrid=True, gridcolor="#D4D4D4", griddash="1px,1px", gridwidth=1),
    ),
)

# a pagina tem margem de 8px no body: zera para o grafico ocupar a janela toda
fig.write_html("out.html", config={"displayModeBar": False},
               post_script="document.body.style.margin='0px';")
